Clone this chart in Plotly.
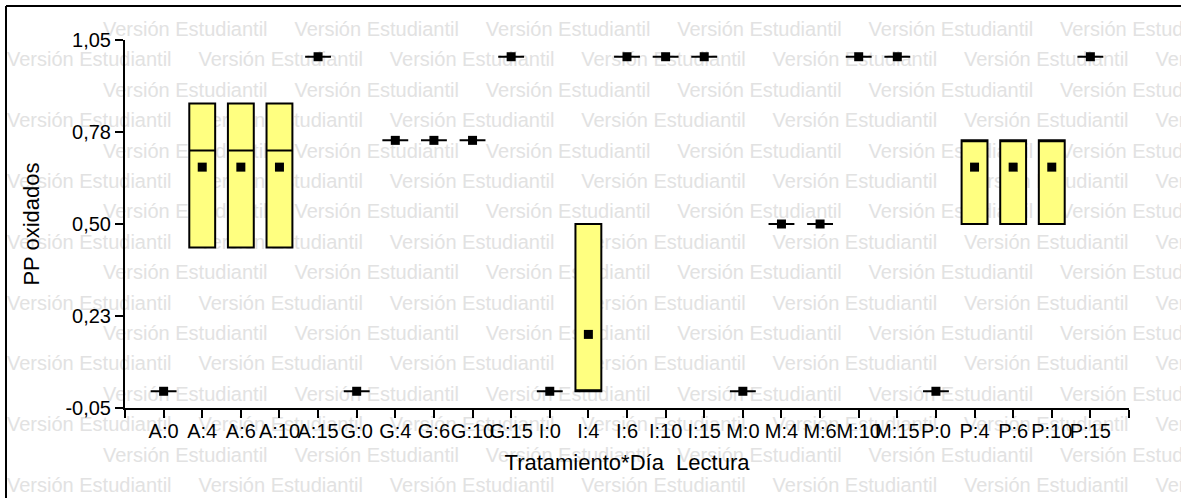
import plotly.graph_objects as go

# Box summaries per Tratamiento*Día Lectura
categories = ["A:0", "A:4", "A:6", "A:10", "A:15",
              "G:0", "G:4", "G:6", "G:10", "G:15",
              "I:0", "I:4", "I:6", "I:10", "I:15",
              "M:0", "M:4", "M:6", "M:10", "M:15",
              "P:0", "P:4", "P:6", "P:10", "P:15"]
q1 = [0.00, 0.43, 0.43, 0.43, 1.00,
      0.00, 0.75, 0.75, 0.75, 1.00,
      0.00, 0.00, 1.00, 1.00, 1.00,
      0.00, 0.50, 0.50, 1.00, 1.00,
      0.00, 0.50, 0.50, 0.50, 1.00]
median = [0.00, 0.72, 0.72, 0.72, 1.00,
          0.00, 0.75, 0.75, 0.75, 1.00,
          0.00, 0.00, 1.00, 1.00, 1.00,
          0.00, 0.50, 0.50, 1.00, 1.00,
          0.00, 0.75, 0.75, 0.75, 1.00]
q3 = [0.00, 0.86, 0.86, 0.86, 1.00,
      0.00, 0.75, 0.75, 0.75, 1.00,
      0.00, 0.50, 1.00, 1.00, 1.00,
      0.00, 0.50, 0.50, 1.00, 1.00,
      0.00, 0.75, 0.75, 0.75, 1.00]
mean = [0.00, 0.67, 0.67, 0.67, 1.00,
        0.00, 0.75, 0.75, 0.75, 1.00,
        0.00, 0.17, 1.00, 1.00, 1.00,
        0.00, 0.50, 0.50, 1.00, 1.00,
        0.00, 0.67, 0.67, 0.67, 1.00]
y_ticks = [-0.05, 0.225, 0.50, 0.775, 1.05]
y_tick_labels = ["-0,05", "0,23", "0,50", "0,78", "1,05"]

FONT = "Arial, Liberation Sans, sans-serif"
W, H = 1181, 498
L, R, T, B = 125, 52, 40, 90   # plot area edges in page pixels

pos = list(range(len(categories)))

fig = go.Figure()

# "Versión Estudiantil" watermark on a full-page subplot drawn beneath the chart
wx, wy = [], []
for r in range(16):
    yy = 31 + r * 30.4
    off = 103 if r % 2 == 0 else 7
    for k in range(-1, 7):
        xx = off + k * 191.4
        if xx < W:
            wx.append(xx)
            wy.append(yy)
fig.add_trace(go.Scatter(x=wx, y=wy, mode="text", text=["Versión Estudiantil"] * len(wx),
                         textposition="middle right", cliponaxis=False,
                         textfont=dict(family=FONT, size=20, color="#e2e2e2"),
                         hoverinfo="skip", showlegend=False, xaxis="x", yaxis="y"))

fig.add_trace(go.Box(x=pos, q1=q1, median=median, q3=q3, lowerfence=q1, upperfence=q3,
                     width=0.67, fillcolor="#ffff80", line=dict(color="black", width=2),
                     boxpoints=False, showlegend=False, xaxis="x2", yaxis="y2"))
fig.add_trace(go.Scatter(x=pos, y=mean, mode="markers",
                         marker=dict(symbol="square", size=9, color="black"),
                         showlegend=False, xaxis="x2", yaxis="y2"))

# outer frame: only top and left edges are inside the page
frame = dict(color="black", width=2)
fig.add_shape(type="line", xref="paper", yref="paper",
              x0=6 / W, x1=1, y0=1 - 6 / H, y1=1 - 6 / H, line=frame)
fig.add_shape(type="line", xref="paper", yref="paper",
              x0=6 / W, x1=6 / W, y0=0, y1=1 - 6 / H, line=frame)

axis_style = dict(showline=True, linecolor="black", linewidth=2,
                  ticks="outside", ticklen=8, tickwidth=2, tickcolor="black",
                  showgrid=False, zeroline=False, automargin=False,
                  tickfont=dict(family=FONT, size=20))

fig.update_layout(
    template="none",
    width=W, height=H,
    margin=dict(l=0, r=0, t=0, b=0, pad=0, autoexpand=False),
    paper_bgcolor="white", plot_bgcolor="rgba(0,0,0,0)",
    font=dict(family=FONT, color="black"),
    xaxis=dict(visible=False, automargin=False, domain=[0, 1], range=[0, W], fixedrange=True),
    yaxis=dict(visible=False, automargin=False, domain=[0, 1], range=[H, 0], fixedrange=True),
    xaxis2=dict(anchor="y2", domain=[L / W, (W - R) / W], range=[-1, len(categories)],
                tickvals=[-1] + pos + [len(categories)],
                ticktext=[""] + categories + [""], tickangle=0, ticklabelstandoff=-4,
                title=dict(text="Tratamiento*Día\u00a0 Lectura", standoff=14,
                           font=dict(family=FONT, size=22)),
                **axis_style),
    yaxis2=dict(anchor="x2", domain=[B / H, (H - T) / H], range=[-0.05, 1.05],
                tickvals=y_ticks, ticktext=y_tick_labels,
                title=dict(text="PP oxidados", standoff=20,
                           font=dict(family=FONT, size=22)),
                **axis_style),
    hovermode=False,
)

fig.write_html("out.html", config={"displayModeBar": False},
               post_script="document.body.style.margin='0';")
